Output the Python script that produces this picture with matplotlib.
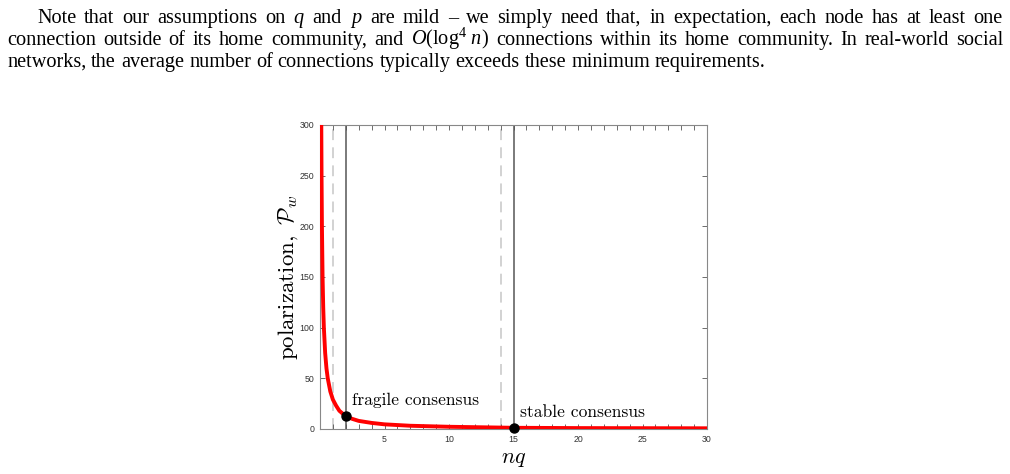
import numpy as np
import matplotlib
matplotlib.use("Agg")
import matplotlib.pyplot as plt

# curve
nq = [0.1, 0.12, 0.15, 0.2, 0.25, 0.3, 0.4, 0.5, 0.6, 0.8, 1.0, 1.25, 1.5,
      2.0, 2.5, 3.0, 4.0, 5.0, 7.0, 10.0, 15.0, 20.0, 25.0, 30.0]
polarization = [300, 250, 200, 150, 120, 100, 75, 60, 50, 37, 29, 23, 18,
                12.5, 10, 8, 6, 4.6, 3.2, 2.2, 1.2, 0.9, 0.8, 0.7]

dashed_x = [1, 14]
solid_x = [2, 15]
dots_x = [2, 15]
dots_y = [12.5, 1.0]
regime_labels = ["fragile consensus", "stable consensus"]
label_xy = [(2.5, 21), (15.5, 8.5)]

para_lines = [
    ["Note", "that", "our", "assumptions", "on", "$q$", "and", "$p$", "are", "mild",
     "\u2013", "we", "simply", "need", "that,", "in", "expectation,", "each", "node",
     "has", "at", "least", "one"],
    ["connection", "outside", "of", "its", "home", "community,", "and",
     r"$O(\log^4\,n)$", "connections", "within", "its", "home", "community.",
     "In", "real-world", "social"],
    ["networks,", "the", "average", "number", "of", "connections", "typically",
     "exceeds", "these", "minimum", "requirements."],
]

plt.rcParams["mathtext.fontset"] = "custom"
plt.rcParams["mathtext.rm"] = "Liberation Serif"
plt.rcParams["mathtext.it"] = "Liberation Serif:italic"

W, H = 1010, 474
fig = plt.figure(figsize=(W / 100, H / 100), dpi=100)

# paragraph, justified word by word
renderer = fig.canvas.get_renderer()
line_geom = [(37, 1003, 23, True), (7, 1003, 45, True), (7, None, 67, False)]
for words, (x0, x1, yb, just) in zip(para_lines, line_geom):
    texts = [fig.text(0, 1 - yb / H, w, fontsize=14.6, family="Liberation Serif",
                      va="baseline", ha="left", math_fontfamily="custom")
             for w in words]
    widths = [t.get_window_extent(renderer).width for t in texts]
    if just:
        gap = (x1 - x0 - sum(widths)) / (len(words) - 1)
    else:
        gap = 5.0
    x = x0
    for t, w in zip(texts, widths):
        t.set_x(x / W)
        x += w + gap

ax = fig.add_axes([320 / W, 1 - 429 / H, 387 / W, 304 / H])

for xv in dashed_x:
    ax.axvline(xv, color="#cfcfcf", lw=1.3, ls=(0, (6, 4)), zorder=1)
for xv in solid_x:
    ax.axvline(xv, color="#6f6f6f", lw=1.3, zorder=1)

ax.plot(nq, polarization, color="red", lw=2.8, zorder=3, solid_capstyle="butt")
ax.plot(dots_x, dots_y, "o", color="black", ms=6.5, zorder=4, clip_on=False)

for lab, (lx, ly) in zip(regime_labels, label_xy):
    ax.text(lx, ly, lab, family="cmr10", fontsize=12.6, va="bottom", ha="left")

ax.set_xlim(0, 30)
ax.set_ylim(0, 300)
ax.set_xticks([5, 10, 15, 20, 25, 30])
ax.set_xticks(np.arange(0, 31, 1), minor=True)
ax.set_yticks(np.arange(0, 301, 50))
ax.tick_params(which="both", direction="in", top=True, right=True,
               length=3.5, width=0.6, color="#555555", labelsize=6.3,
               labelcolor="#333333", pad=4)
for lbl in ax.get_xticklabels() + ax.get_yticklabels():
    lbl.set_family("Liberation Sans")
for s in ax.spines.values():
    s.set_color("#888888")
    s.set_linewidth(0.8)

ax.set_ylabel(r"$\mathrm{polarization,}\ \mathcal{P}_w$", fontsize=16.5,
              math_fontfamily="cm", labelpad=0)
ax.set_xlabel(r"$nq$", fontsize=16, math_fontfamily="cm", labelpad=4)

fig.savefig("out.png", dpi=100)
